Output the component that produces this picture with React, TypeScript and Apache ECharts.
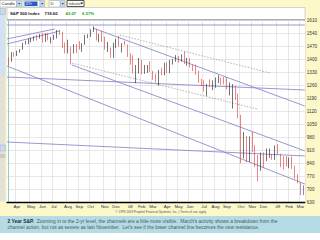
import React, { useEffect, useRef } from "react";
import * as echarts from "echarts";

const weeks = [
  "2007-03-12", "2007-03-19", "2007-03-26", "2007-04-02", "2007-04-09", "2007-04-16", "2007-04-23", "2007-04-30",
  "2007-05-07", "2007-05-14", "2007-05-21", "2007-05-29", "2007-06-04", "2007-06-11", "2007-06-18", "2007-06-25",
  "2007-07-02", "2007-07-09", "2007-07-16", "2007-07-23", "2007-07-30", "2007-08-06", "2007-08-13", "2007-08-20",
  "2007-08-27", "2007-09-04", "2007-09-10", "2007-09-17", "2007-09-24", "2007-10-01", "2007-10-08", "2007-10-15",
  "2007-10-22", "2007-10-29", "2007-11-05", "2007-11-12", "2007-11-19", "2007-11-26", "2007-12-03", "2007-12-10",
  "2007-12-17", "2007-12-24", "2007-12-31", "2008-01-07", "2008-01-14", "2008-01-22", "2008-01-28", "2008-02-04",
  "2008-02-11", "2008-02-19", "2008-02-25", "2008-03-03", "2008-03-10", "2008-03-17", "2008-03-24", "2008-03-31",
  "2008-04-07", "2008-04-14", "2008-04-21", "2008-04-28", "2008-05-05", "2008-05-12", "2008-05-19", "2008-05-27",
  "2008-06-02", "2008-06-09", "2008-06-16", "2008-06-23", "2008-06-30", "2008-07-07", "2008-07-14", "2008-07-21",
  "2008-07-28", "2008-08-04", "2008-08-11", "2008-08-18", "2008-08-25", "2008-09-02", "2008-09-08", "2008-09-15",
  "2008-09-22", "2008-09-29", "2008-10-06", "2008-10-13", "2008-10-20", "2008-10-27", "2008-11-03", "2008-11-10",
  "2008-11-17", "2008-11-24", "2008-12-01", "2008-12-08", "2008-12-15", "2008-12-22", "2008-12-29", "2009-01-05",
  "2009-01-12", "2009-01-20", "2009-01-26", "2009-02-02", "2009-02-09", "2009-02-17", "2009-02-23", "2009-03-02",
  "2009-03-09",
];

const opens = [
  1402, 1387, 1436, 1421, 1444, 1452, 1484, 1494, 1504, 1505, 1522, 1515, 1531, 1507, 1533, 1502,
  1504, 1530, 1552, 1534, 1458, 1433, 1453, 1445, 1479, 1474, 1454, 1484, 1525, 1527, 1557, 1561,
  1500, 1535, 1509, 1453, 1458, 1440, 1481, 1504, 1467, 1484, 1478, 1411, 1401, 1325, 1330, 1395,
  1331, 1349, 1353, 1331, 1294, 1288, 1330, 1316, 1370, 1332, 1390, 1397, 1413, 1388, 1425, 1375,
  1400, 1361, 1360, 1318, 1278, 1262, 1239, 1261, 1257, 1260, 1296, 1298, 1292, 1282, 1242, 1251,
  1255, 1213, 1099, 899, 940, 877, 968, 930, 873, 800, 896, 876, 880, 887, 872, 931,
  890, 850, 832, 826, 869, 826, 770, 735, 683,
];
const highs = [
  1409, 1437, 1437, 1445, 1453, 1486, 1498, 1510, 1514, 1522, 1530, 1535, 1540, 1538, 1540, 1518,
  1531, 1556, 1556, 1547, 1489, 1504, 1466, 1480, 1480, 1496, 1485, 1530, 1533, 1560, 1576, 1563,
  1535, 1552, 1520, 1492, 1462, 1488, 1508, 1523, 1485, 1498, 1478, 1430, 1420, 1368, 1405, 1396,
  1368, 1368, 1388, 1336, 1321, 1342, 1353, 1380, 1381, 1395, 1400, 1421, 1416, 1425, 1440, 1406,
  1404, 1370, 1370, 1336, 1292, 1285, 1266, 1290, 1285, 1300, 1313, 1300, 1303, 1303, 1274, 1265,
  1256, 1215, 1099, 1007, 985, 983, 1007, 936, 883, 896, 897, 918, 918, 889, 935, 943,
  890, 877, 877, 870, 876, 826, 780, 736, 720,
];
const lows = [
  1364, 1386, 1412, 1416, 1434, 1450, 1478, 1480, 1490, 1498, 1500, 1510, 1488, 1492, 1500, 1484,
  1503, 1510, 1530, 1458, 1430, 1430, 1370, 1430, 1432, 1451, 1439, 1476, 1512, 1519, 1545, 1500,
  1490, 1492, 1450, 1438, 1407, 1406, 1460, 1467, 1435, 1474, 1411, 1370, 1321, 1270, 1322, 1317,
  1320, 1325, 1330, 1288, 1273, 1257, 1313, 1312, 1324, 1324, 1370, 1385, 1380, 1386, 1373, 1364,
  1355, 1335, 1315, 1272, 1255, 1225, 1200, 1248, 1233, 1245, 1270, 1261, 1263, 1236, 1203, 1133,
  1180, 1080, 839, 865, 845, 845, 899, 818, 741, 798, 815, 851, 868, 857, 857, 885,
  817, 805, 821, 812, 808, 754, 731, 667, 667,
];
const closes = [
  1387, 1436, 1421, 1444, 1452, 1484, 1494, 1505, 1505, 1522, 1515, 1531, 1507, 1533, 1503, 1503,
  1530, 1552, 1534, 1458, 1433, 1453, 1445, 1479, 1474, 1454, 1484, 1525, 1527, 1557, 1561, 1500,
  1535, 1509, 1453, 1458, 1440, 1481, 1504, 1467, 1484, 1478, 1411, 1401, 1325, 1330, 1395, 1331,
  1349, 1353, 1331, 1294, 1288, 1330, 1316, 1370, 1332, 1390, 1397, 1413, 1388, 1425, 1375, 1400,
  1360, 1360, 1318, 1278, 1262, 1239, 1261, 1257, 1260, 1296, 1298, 1292, 1282, 1242, 1251, 1255,
  1213, 1099, 899, 940, 877, 968, 930, 873, 800, 896, 876, 880, 887, 872, 931, 890,
  850, 832, 826, 869, 826, 770, 735, 683, 720,
];

const monthNames = ["Jan", "Feb", "Mar", "Apr", "May", "Jun", "Jul", "Aug", "Sep", "Oct", "Nov", "Dec"];
const priceMin = 630;
const priceMax = 1610;
const priceStep = 70;

// trend lines drawn on the chart: [weekIndex, price] endpoints
const solidLines = [
  [[-0.5, 1583], [104.5, 1583]],
  [[-0.5, 1508], [16.4, 1562]],
  [[-0.5, 1481], [18.2, 1551]],
  [[29.8, 1567], [104.5, 1147]],
  [[-0.5, 1362], [104.5, 727]],
  [[22.4, 1368], [104.5, 905]],
  [[-0.5, 1303], [104.5, 1233]],
  [[-0.5, 953], [104.5, 878]],
];
const dottedLines = [
  [[39.3, 1529], [92.2, 1325]],
  [[22.4, 1378], [87.6, 1131]],
];

const headerName = "S&P 500 Index";
const headerLast = "719.60";
const headerChange = "43.07";
const headerPct = "6.37%";
const captionLine1 =
  "{b|2 Year S&P.}  Zooming in to the 2-yr level, the channels are a little more visible.  March's activity shows a breakdown from the";
const captionLine2 =
  "channel action, but not as severe as last November.  Let's see if the lower channel line becomes the new resistance.";
const copyright = "\u00a9 1999-2009 Prophet Financial Systems, Inc. | Terms of use apply.";

const FONT = "'Liberation Sans', Arial, sans-serif";

export default function App() {
  const ref = useRef<HTMLDivElement>(null);
  useEffect(() => {
    if (!ref.current) return;
    const chart = echarts.init(ref.current, null, { renderer: "svg" });
    const N = weeks.length;
    const isStart = (i: number) => i > 0 && weeks[i].slice(5, 7) !== weeks[i - 1].slice(5, 7);
    const blue = "#2233ee";
    const candleData = weeks.map((_, i) => {
      const v = [opens[i], closes[i], lows[i], highs[i]];
      if (i === N - 1) {
        return { value: v, itemStyle: { color: blue, color0: blue, borderColor: blue, borderColor0: blue } };
      }
      return v;
    });
    const lineSeries: any[] = [];
    solidLines.forEach((seg) =>
      lineSeries.push({
        type: "line",
        xAxisIndex: 1,
        yAxisIndex: 0,
        data: seg,
        symbol: "none",
        silent: true,
        lineStyle: { color: "#7d7dc6", width: 0.8 },
        z: 3,
      })
    );
    dottedLines.forEach((seg) =>
      lineSeries.push({
        type: "line",
        xAxisIndex: 1,
        yAxisIndex: 0,
        data: seg,
        symbol: "none",
        silent: true,
        lineStyle: { color: "#a0a0a8", width: 0.8, type: [1.5, 1.5] },
        z: 3,
      })
    );

    const tb = (x: number, w: number, text: string, fill: string, color: string) => [
      { type: "rect", shape: { x, y: 0.5, width: w, height: 6.5 }, style: { fill, stroke: "#8899aa", lineWidth: 0.5 } },
      { type: "text", x: x + 1.5, y: 3.9, style: { text, fontSize: 4.2, fill: color, fontFamily: FONT, verticalAlign: "middle" } },
    ];
    const arrowBtn = (x: number) => [
      { type: "rect", shape: { x, y: 0.5, width: 4.5, height: 6.5 }, style: { fill: "#c4d6f2", stroke: "#8899bb", lineWidth: 0.4 } },
      { type: "polygon", shape: { points: [[x + 1.1, 3], [x + 3.4, 3], [x + 2.25, 4.6]] }, style: { fill: "#223366" } },
    ];

    const graphic: any[] = [
      // toolbar
      ...tb(0, 16.5, "Candle", "#ffffff", "#222"),
      ...arrowBtn(17),
      { type: "rect", shape: { x: 23, y: 0.5, width: 17, height: 6.5 }, style: { fill: "#ffffff", stroke: "#8899aa", lineWidth: 0.5 } },
      { type: "rect", shape: { x: 24.5, y: 1.5, width: 13, height: 4.5 }, style: { fill: "#2a5bc8" } },
      { type: "text", x: 25.5, y: 3.9, style: { text: "2Yr", fontSize: 4.2, fill: "#fff", fontFamily: FONT, verticalAlign: "middle" } },
      ...arrowBtn(40),
      ...tb(49, 11, "D", "#ffffff", "#222"),
      ...arrowBtn(60.5),
      { type: "rect", shape: { x: 67, y: 0.5, width: 17, height: 6 }, style: { fill: "#ffffff", stroke: "#111", lineWidth: 0.7 } },
      { type: "text", x: 68.5, y: 3.6, style: { text: "Indicator", fontSize: 3.2, fill: "#333", fontFamily: FONT, verticalAlign: "middle" } },
      { type: "polygon", shape: { points: [[80.5, 2.6], [83, 2.6], [81.75, 4.4]] }, style: { fill: "#111" } },
      // left scroll strip
      { type: "rect", shape: { x: 0, y: 8.5, width: 5.5, height: 193 }, style: { fill: "#e4e2d6" } },
      { type: "rect", shape: { x: 0, y: 8.5, width: 5.5, height: 6 }, style: { fill: "#c8daf2", stroke: "#8fa3c0", lineWidth: 0.4 } },
      { type: "rect", shape: { x: 0, y: 15, width: 5.5, height: 60 }, style: { fill: "#d3e2f3" } },
      { type: "rect", shape: { x: 0, y: 145, width: 5.5, height: 6 }, style: { fill: "#c8daf2", stroke: "#8fa3c0", lineWidth: 0.4 } },
      { type: "line", shape: { x1: 0, y1: 155, x2: 5.5, y2: 155 }, style: { stroke: "#999", lineWidth: 0.6 } },
      { type: "line", shape: { x1: 0, y1: 157, x2: 5.5, y2: 157 }, style: { stroke: "#999", lineWidth: 0.6 } },
      // header box
      { type: "rect", shape: { x: 7, y: 7.5, width: 298, height: 12.5 }, style: { fill: "#ffffff", stroke: "#b8b8b8", lineWidth: 0.6 } },
      { type: "line", shape: { x1: 7, y1: 20, x2: 305, y2: 20 }, style: { stroke: "#707070", lineWidth: 1 } },
      { type: "text", x: 10, y: 13.8, style: { text: headerName, fontSize: 4.3, fontWeight: "bold", fill: "#111", fontFamily: FONT, verticalAlign: "middle" } },
      { type: "text", x: 44.5, y: 13.8, style: { text: headerLast, fontSize: 4.3, fontWeight: "bold", fill: "#111", fontFamily: FONT, verticalAlign: "middle" } },
      { type: "text", x: 65.5, y: 13.8, style: { text: headerChange, fontSize: 4.3, fontWeight: "bold", fill: "#22a022", fontFamily: FONT, verticalAlign: "middle" } },
      { type: "text", x: 82, y: 13.8, style: { text: headerPct, fontSize: 4.3, fontWeight: "bold", fill: "#22a022", fontFamily: FONT, verticalAlign: "middle" } },
      // copyright
      { type: "text", x: 161, y: 212, style: { text: copyright, fontSize: 3.1, fill: "#555", fontFamily: FONT, align: "center", verticalAlign: "middle" } },
      // caption
      { type: "rect", shape: { x: 0, y: 216, width: 320, height: 17 }, style: { fill: "#b5dce4" } },
      { type: "rect", shape: { x: 0, y: 233, width: 320, height: 7 }, style: { fill: "#ffffff" } },
      {
        type: "text", x: 7.5, y: 221.2,
        style: {
          text: captionLine1, fontSize: 4.9, fill: "#4a5868", fontFamily: FONT, verticalAlign: "middle",
          rich: { b: { fontSize: 4.9, fontWeight: "bold", fill: "#1e2a3a", fontFamily: FONT } },
        },
      },
      { type: "text", x: 7.5, y: 227.4, style: { text: captionLine2, fontSize: 4.9, fill: "#4a5868", fontFamily: FONT, verticalAlign: "middle" } },
    ];

    chart.setOption({
      animation: false,
      backgroundColor: "#fcf8c9",
      grid: { left: 7, right: 15, top: 20, bottom: 38, show: true, backgroundColor: "#ffffff", borderWidth: 0 },
      xAxis: [
        {
          type: "category",
          data: weeks,
          boundaryGap: true,
          axisLine: { show: true, lineStyle: { color: "#000", width: 1.3 } },
          axisTick: { show: false },
          axisLabel: {
            interval: (i: number) => isStart(i),
            formatter: (v: string) => {
              const m = parseInt(v.slice(5, 7), 10);
              return m === 1 ? v.slice(2, 4) : monthNames[m - 1];
            },
            fontSize: 4.4,
            color: "#2a2f55",
            margin: 2.5,
            fontFamily: FONT,
          },
          splitLine: { show: true, interval: (i: number) => isStart(i), lineStyle: { color: "#dcdcdc", width: 0.7 } },
        },
        { type: "value", min: -0.5, max: N - 0.5, show: false },
      ],
      yAxis: {
        type: "value",
        position: "right",
        min: priceMin,
        max: priceMax,
        interval: priceStep,
        axisLine: { show: true, lineStyle: { color: "#8fcad4", width: 1 } },
        axisTick: { show: false },
        axisLabel: { fontSize: 4.6, color: "#333", margin: 2, fontFamily: FONT, formatter: (v: number) => String(v) },
        splitLine: { show: true, lineStyle: { color: "#dcdcdc", width: 0.7 } },
      },
      series: [
        {
          type: "candlestick",
          data: candleData,
          barWidth: "45%",
          silent: true,
          itemStyle: { color: "#151515", color0: "#dd3333", borderColor: "#151515", borderColor0: "#dd3333", borderWidth: 0.6 },
          z: 4,
        },
        ...lineSeries,
      ],
      graphic,
    });
    return () => chart.dispose();
  }, []);
  return <div ref={ref} style={{ position: "fixed", left: 0, top: 0, width: 320, height: 240 }} />;
}
